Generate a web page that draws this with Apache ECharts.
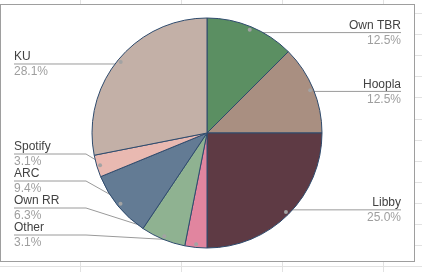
<!DOCTYPE html>
<html>
<head>
<meta charset="utf-8">
<script src="https://cdn.jsdelivr.net/npm/echarts@6/dist/echarts.min.js"></script>
<style>
  html, body { margin: 0; padding: 0; width: 422px; height: 272px; overflow: hidden; background: #fff; }
  .gv { position: absolute; top: 0; width: 1px; height: 272px; background: #e2e2e2; }
  .gh { position: absolute; left: 0; height: 1px; width: 422px; background: #e2e2e2; }
  #box { position: absolute; left: 0; top: 4px; width: 415px; height: 258px; box-sizing: border-box; border: 1px solid #9e9e9e; background: #fff; }
  #chart { position: absolute; left: 0; top: 0; width: 422px; height: 272px; }
</style>
</head>
<body>
<div id="chart"></div>
<script>
// ---- data ----
const categories = ['Own TBR', 'Hoopla', 'Libby', 'Other', 'Own RR', 'ARC', 'Spotify', 'KU'];
const shares = [12.5, 12.5, 25.0, 3.1, 6.3, 9.4, 3.1, 28.1];
const sliceColors = ['#5b8f62', '#a98f81', '#5e3a44', '#e1859f', '#8fb291', '#637b94', '#e9b9b1', '#c3b0a7'];

// ---- spreadsheet backdrop ----
[80, 181, 282, 383].forEach(x => { const d = document.createElement('div'); d.className = 'gv'; d.style.left = x + 'px'; document.body.insertBefore(d, document.body.firstChild); });
for (let k = 0; k < 13; k++) { const d = document.createElement('div'); d.className = 'gh'; d.style.top = Math.round(13 + 21.1 * k) + 'px'; document.body.insertBefore(d, document.body.firstChild); }
const box = document.createElement('div'); box.id = 'box'; document.body.insertBefore(box, document.getElementById('chart'));

// ---- geometry ----
const cx = 207, cy = 133, R = 115;
const FONT = '"Liberation Sans", Arial, sans-serif';
const total = shares.reduce((a, b) => a + b, 0);
let acc = 0;
const info = shares.map((v, i) => {
  const mid = (acc + v / 2) / total * 2 * Math.PI;
  acc += v;
  const dr = R * 0.945;
  return { i, px: cx + dr * Math.sin(mid), py: cy - dr * Math.cos(mid), right: Math.sin(mid) > 0 };
});
const GAP = 27;
// left side: resolve bottom-up
let limit = 235;
info.filter(d => !d.right).sort((a, b) => b.py - a.py).forEach(d => {
  d.y = Math.min(d.py, limit); limit = d.y - GAP;
});
limit = 30;
info.filter(d => d.right).sort((a, b) => a.py - b.py).forEach(d => {
  d.y = Math.max(d.py, limit); limit = d.y + GAP;
});
info.forEach(d => {
  if (d.right) {
    d.x = 401; d.align = 'right';
    d.points = [[d.px, d.py], [328, d.y], [401, d.y]];
  } else {
    d.x = 14; d.align = 'left';
    d.points = [[d.px, d.py], [86, d.y], [14, d.y]];
  }
});

const chart = echarts.init(document.getElementById('chart'), null, { renderer: 'canvas' });
chart.setOption({
  animation: false,
  series: [
    {
      type: 'pie',
      center: [cx, cy],
      radius: R,
      startAngle: 90,
      clockwise: true,
      avoidLabelOverlap: false,
      emphasis: { disabled: true },
      itemStyle: { borderColor: '#2f4b6d', borderWidth: 1 },
      data: categories.map((c, i) => ({ name: c, value: shares[i], itemStyle: { color: sliceColors[i] } })),
      label: {
        show: true,
        position: 'outside',
        width: 90,
        formatter: p => '{n|' + p.name + '}\n{p|' + shares[p.dataIndex].toFixed(1) + '%}',
        rich: {
          n: { fontSize: 12, fontFamily: FONT, color: '#424242', lineHeight: 14 },
          p: { fontSize: 12, fontFamily: FONT, color: '#9e9e9e', lineHeight: 16 }
        }
      },
      labelLine: { show: true, length: 5, length2: 5, lineStyle: { color: '#9a9a9a', width: 1 } },
      labelLayout: function (params) {
        const d = info[params.dataIndex];
        return { x: d.x, y: d.y - 14, align: d.align, verticalAlign: 'top', labelLinePoints: d.points };
      }
    },
    {
      type: 'pie',
      z: 5,
      silent: true,
      center: [cx, cy],
      radius: [R * 0.945 - 6, R * 0.945 + 6],
      startAngle: 90,
      clockwise: true,
      emphasis: { disabled: true },
      itemStyle: { color: 'rgba(0,0,0,0)', borderWidth: 0 },
      data: categories.map((c, i) => ({ name: c, value: shares[i] })),
      label: {
        show: true,
        position: 'inside',
        formatter: '{d| }',
        rich: { d: { width: 4, height: 4, lineHeight: 4, borderRadius: 2, backgroundColor: '#a3a3a3' } }
      },
      labelLine: { show: false }
    }
  ]
});
</script>
</body>
</html>
